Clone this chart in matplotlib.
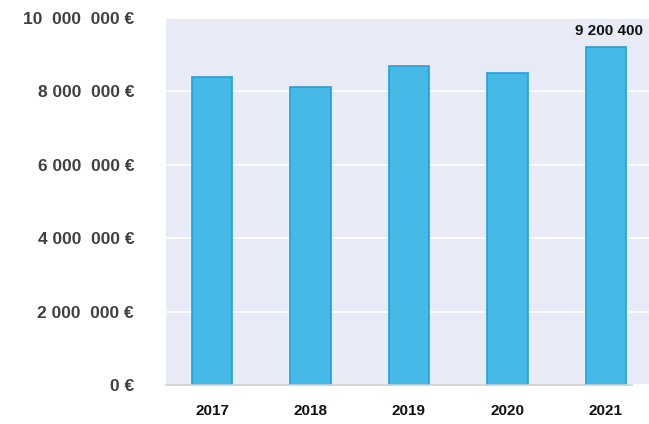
import matplotlib
matplotlib.use("Agg")
import matplotlib.pyplot as plt

years = ["2017", "2018", "2019", "2020", "2021"]
values = [8400000, 8130000, 8700000, 8510000, 9200400]
ytick_values = [0, 2000000, 4000000, 6000000, 8000000, 10000000]
ytick_labels = ["0 €", "2 000  000 €", "4 000  000 €", "6 000  000 €", "8 000  000 €", "10  000  000 €"]
annot_label = "9 200 400"

plt.rcParams['font.family'] = ['Liberation Sans', 'DejaVu Sans']

fig = plt.figure(figsize=(6.49, 4.24), dpi=100)
ax = fig.add_axes([166 / 649, 1 - 385 / 424, 1 - 166 / 649, (385 - 17) / 424])
ax.set_facecolor("#E8EBF6")

x = list(range(len(years)))
ax.bar(x, values, width=0.41, color="#45B8E5", edgecolor="#1AA3DF", linewidth=1.2, zorder=3)

ax.set_xlim(-0.467, 4.437)
ax.set_ylim(0, 10.03e6)
ax.set_yticks(ytick_values)
ax.set_yticklabels(ytick_labels, fontsize=12.5, fontweight="bold", color="#404040")
ax.set_xticks(x)
ax.set_xticklabels(years, fontsize=11, fontweight="bold", color="#111111")
ax.tick_params(axis="both", length=0)
ax.tick_params(axis="y", pad=23)
ax.tick_params(axis="x", pad=14)
ax.yaxis.grid(True, color="white", linewidth=1.2, zorder=1)
ax.set_axisbelow(True)
for s in ["top", "right", "left", "bottom"]:
    ax.spines[s].set_visible(False)
ax.plot([-0.467, 4.265], [0, 0], color="#cfcfcf", linewidth=1.2, zorder=4, clip_on=False)

ax.annotate(annot_label, (x[-1], values[-1]), xytext=(2, 7), textcoords="offset points",
            ha="center", va="bottom", fontsize=11, fontweight="bold", color="#111111")

fig.savefig("out.png", dpi=100)
